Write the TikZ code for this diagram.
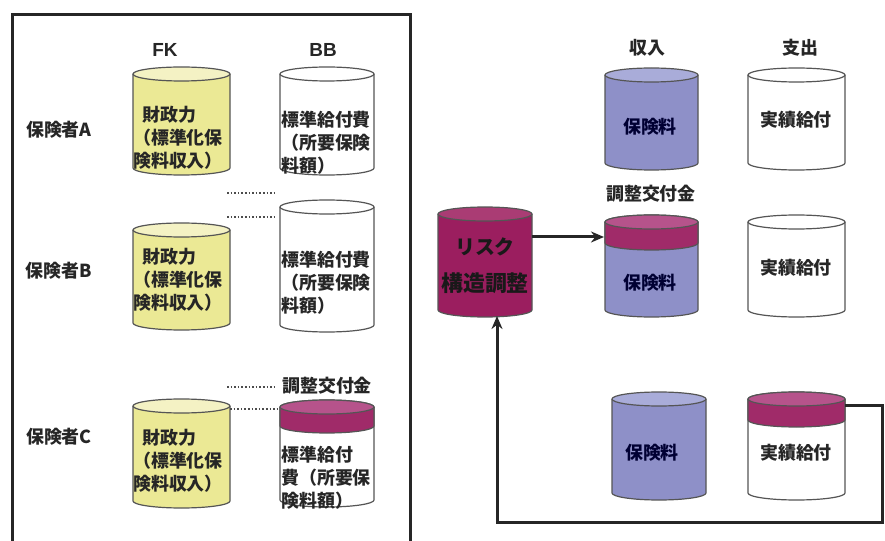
\documentclass[tikz,border=0pt]{standalone}
\usepackage{fontspec}
\setmainfont{Liberation Sans}
\newfontfamily\jp{Noto Sans CJK JP}
\usetikzlibrary{arrows.meta}
\definecolor{yelbody}{HTML}{EBE995}
\definecolor{yeltop}{HTML}{F4F2C4}
\definecolor{blubody}{HTML}{8E90C8}
\definecolor{blutop}{HTML}{A9ACD9}
\definecolor{magband}{HTML}{A02B69}
\definecolor{magtop}{HTML}{B6538B}
\definecolor{riskbody}{HTML}{9B1E5F}
\definecolor{risktop}{HTML}{AA3C74}
\definecolor{cyledge}{HTML}{555555}
\tikzset{
  cylline/.style={draw=cyledge, line width=1.2bp},
  lbl/.style={font=\jp\bfseries\fontsize{18}{22}\selectfont, text=black!85, inner sep=0},
  latin/.style={font=\bfseries\fontsize{19}{22}\selectfont, text=black!85, inner sep=0},
  cyltxt/.style={font=\jp\bfseries\fontsize{18}{23}\selectfont, align=left, inner sep=0, text=black!85},
  riskA/.style={font=\jp\bfseries\fontsize{20}{24}\selectfont, inner sep=0, text=black!90},
  riskB/.style={font=\jp\bfseries\fontsize{22}{24}\selectfont, inner sep=0, text=black!90},
  conn/.style={line width=3bp, draw=black!85, -{Stealth[length=13bp,width=11bp]}},
  dots/.style={dotted, line width=1.6bp, draw=black!70},
  frame/.style={line width=3bp, draw=black!85}
}
\newcommand{\mycyl}[7]{%
  \pgfmathsetmacro\cylrx{(#3-#2)/2}%
  \pgfmathsetmacro\cylcx{(#2+#3)/2}%
  \pgfmathsetmacro\cylyt{#4+7}%
  \pgfmathsetmacro\cylyb{#5-7}%
  \pgfmathsetmacro\cylcy{(#4+#5)/2}%
  \pgfmathsetmacro\cylw{#3-#2}%
  \pgfmathsetmacro\cylh{#5-#4}%
  \fill[#6] (#2,\cylyt) -- (#2,\cylyb) arc[start angle=180,end angle=0,x radius=\cylrx,y radius=7] -- (#3,\cylyt) -- cycle;
  \draw[cylline] (#2,\cylyt) -- (#2,\cylyb) arc[start angle=180,end angle=0,x radius=\cylrx,y radius=7] -- (#3,\cylyt);
  \draw[cylline,fill=#7] (\cylcx,\cylyt) ellipse[x radius=\cylrx,y radius=7];
  \node[inner sep=0,outer sep=0,minimum width=\cylw bp,minimum height=\cylh bp] (#1) at (\cylcx,\cylcy) {};
}
\newcommand{\mycap}[4]{%
  \pgfmathsetmacro\caprx{(#2-#1)/2}%
  \pgfmathsetmacro\capcx{(#1+#2)/2}%
  \pgfmathsetmacro\capyt{#3+7}%
  \pgfmathsetmacro\capyb{#4-7}%
  \fill[magband] (#1,\capyt) -- (#1,\capyb) arc[start angle=180,end angle=0,x radius=\caprx,y radius=7] -- (#2,\capyt) -- cycle;
  \draw[cylline] (#1,\capyt) -- (#1,\capyb) arc[start angle=180,end angle=0,x radius=\caprx,y radius=7] -- (#2,\capyt);
  \draw[cylline,fill=magtop] (\capcx,\capyt) ellipse[x radius=\caprx,y radius=7];
}
\begin{document}
\begin{tikzpicture}[x=1bp,y=-1bp]
\useasboundingbox[fill=white] (0,0) rectangle (885,541);
% frame
\draw[frame] (12,560) -- (12,15) -- (410,15) -- (410,560);
% headers
\node[latin] (hfk) at (165,50) {FK};
\node[latin] (hbb) at (323,50) {BB};
\node[lbl] (hin) at (647,48) {収入};
\node[lbl] (hout) at (800,48) {支出};
\node[lbl] (insA) at (59,130) {保険者\textbf{A}};
\node[lbl] (insB) at (59,271) {保険者\textbf{B}};
\node[lbl] (insC) at (59,437) {保険者\textbf{C}};
% left cylinders
\mycyl{fkA}{133}{230}{67}{175}{yelbody}{yeltop}
\mycyl{bbA}{280}{374}{67}{175}{white}{white}
\mycyl{fkB}{133}{230}{223}{330}{yelbody}{yeltop}
\mycyl{bbB}{280}{374}{200}{332}{white}{white}
\mycyl{fkC}{133}{230}{399}{508}{yelbody}{yeltop}
\mycyl{bbC}{280}{374}{400}{507}{white}{white}
\mycap{280}{374}{400}{433}
\node[cyltxt,anchor=west] (tfkA) at (133,138) {\hspace{9bp}財政力\\（標準化保\\険料収入）};
\node[cyltxt,anchor=west] (tbbA) at (281,143) {標準給付費\\（所要保険\\料額）};
\node[cyltxt,anchor=west] (tfkB) at (133,280) {\hspace{9bp}財政力\\（標準化保\\険料収入）};
\node[cyltxt,anchor=west] (tbbB) at (281,283) {標準給付費\\（所要保険\\料額）};
\node[cyltxt,anchor=west] (tfkC) at (133,461) {\hspace{9bp}財政力\\（標準化保\\険料収入）};
\node[cyltxt,anchor=west] (tbbC) at (281,478) {標準給付\\費（所要保\\険料額）};
% dotted guides
\coordinate (d1a) at (227,193); \coordinate (d1b) at (277,193);
\coordinate (d2a) at (227,217); \coordinate (d2b) at (277,217);
\coordinate (d3a) at (227,387); \coordinate (d3b) at (277,387);
\coordinate (d4a) at (230,409); \coordinate (d4b) at (278,409);
\draw[dots] (d1a) -- (d1b);
\draw[dots] (d2a) -- (d2b);
\draw[dots] (d3a) -- (d3b);
\draw[dots] (d4a) -- (d4b);
\node[lbl,anchor=west] (adjL) at (282,386) {調整交付金};
% right cylinders
\mycyl{inTop}{605}{698}{68}{170}{blubody}{blutop}
\mycyl{outTop}{748}{845}{68}{170}{white}{white}
\mycyl{inMid}{605}{698}{215}{317}{blubody}{blutop}
\mycap{605}{698}{215}{250}
\mycyl{outMid}{748}{845}{215}{317}{white}{white}
\mycyl{risk}{438}{532}{207}{317}{riskbody}{risktop}
\mycyl{inBot}{612}{706}{392}{500}{blubody}{blutop}
\mycyl{outBot}{748}{845}{392}{500}{white}{white}
\mycap{748}{845}{392}{427}
\node[lbl,text=black!80!blue] (tinTop) at (650,127) {保険料};
\node[lbl] (toutTop) at (796,120) {実績給付};
\node[lbl] (adjR) at (651,194) {調整交付金};
\node[lbl,text=black!80!blue] (tinMid) at (650,283) {保険料};
\node[lbl] (toutMid) at (796,268) {実績給付};
\node[riskA] (trisk1) at (485,247) {リスク};
\node[riskB] (trisk2) at (485,283) {構造調整};
\node[lbl,text=black!80!blue] (tinBot) at (652,453) {保険料};
\node[lbl] (toutBot) at (796,453) {実績給付};
% connectors
\coordinate (ay) at (0,237);
\draw[conn] (risk.east |- ay) -- ([xshift=-1bp]inMid.west |- ay);
\coordinate (by) at (0,405);
\coordinate (c1) at (882,405);
\coordinate (c2) at (882,522);
\coordinate (c3) at (497,522);
\draw[conn] (outBot.east |- by) -- (c1) -- (c2) -- (c3) -- ([yshift=1bp]risk.south -| c3);
\end{tikzpicture}
\end{document}
